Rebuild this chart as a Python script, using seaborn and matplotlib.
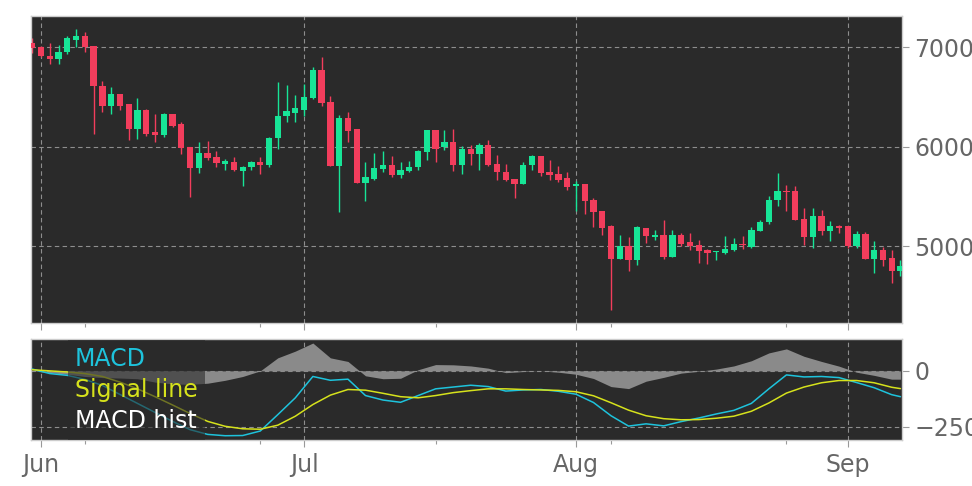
import numpy as np
import pandas as pd
import matplotlib
matplotlib.use('Agg')
import matplotlib.pyplot as plt
import matplotlib.dates as mdates
import matplotlib.ticker as mticker
import seaborn as sns

# daily candles, 2018-05-31 .. 2018-09-07
dates = pd.date_range('2018-05-31', periods=100, freq='D')

open_ = [7040, 6996, 6913, 6875, 6946, 7073, 7114, 7006, 6611, 6403,
         6528, 6427, 6176, 6370, 6142, 6119, 6323, 6222, 5991, 5780,
         5931, 5897, 5827, 5847, 5757, 5790, 5840, 5817, 6081, 6303,
         6340, 6370, 6491, 6772, 6450, 5807, 6283, 6176, 5629, 5673,
         5777, 5817, 5717, 5757, 5797, 5941, 6169, 5991, 6048, 5814,
         5975, 5928, 6018, 5824, 5747, 5676, 5626, 5810, 5901, 5740,
         5724, 5680, 5599, 5619, 5458, 5348, 5197, 4872, 5003, 4862,
         5181, 5087, 5114, 4890, 5114, 5036, 5013, 4956, 4936, 4930,
         4963, 5023, 4990, 5147, 5237, 5458, 5556, 5556, 5274, 5087,
         5305, 5147, 5204, 5197, 4996, 5124, 4872, 4956, 4880, 4745]
high = [7086, 7013, 7040, 7020, 7107, 7181, 7147, 7006, 6661, 6594,
        6528, 6427, 6483, 6377, 6327, 6333, 6323, 6249, 5991, 6041,
        6058, 5958, 5874, 5890, 5807, 5857, 5890, 6092, 6651, 6621,
        6518, 6628, 6795, 6903, 6511, 6317, 6343, 6176, 5840, 5935,
        5951, 5908, 5840, 5857, 5968, 6169, 6169, 6169, 6176, 6001,
        6018, 6035, 6068, 5918, 5827, 5676, 5840, 5918, 5908, 5860,
        5807, 5744, 5649, 5619, 5482, 5348, 5214, 5114, 5091, 5197,
        5181, 5164, 5257, 5157, 5131, 5131, 5056, 4970, 4946, 5104,
        5081, 5104, 5191, 5264, 5506, 5734, 5616, 5606, 5382, 5382,
        5365, 5247, 5214, 5204, 5147, 5137, 5053, 4990, 4956, 4862]
low = [6940, 6896, 6829, 6829, 6930, 6996, 6953, 6126, 6343, 6327,
       6370, 6068, 6075, 6109, 6041, 6092, 6192, 5925, 5488, 5734,
       5867, 5790, 5767, 5757, 5599, 5767, 5724, 5790, 5975, 6249,
       6249, 6310, 6477, 6403, 5807, 5338, 6048, 5629, 5455, 5663,
       5740, 5694, 5684, 5740, 5760, 5867, 5840, 5968, 5757, 5727,
       5817, 5760, 5807, 5666, 5649, 5482, 5626, 5767, 5700, 5666,
       5639, 5566, 5348, 5325, 5191, 5107, 4352, 4872, 4745, 4805,
       5030, 5056, 4872, 4890, 5003, 4963, 4829, 4822, 4862, 4923,
       4946, 4970, 4980, 5147, 5224, 5398, 5348, 5264, 5013, 4980,
       5114, 5046, 5131, 4980, 4980, 4869, 4729, 4795, 4628, 4695]
close = [6986, 6906, 6875, 6953, 7086, 7114, 6996, 6604, 6403, 6528,
         6410, 6176, 6370, 6126, 6116, 6327, 6209, 5981, 5780, 5931,
         5884, 5830, 5857, 5764, 5797, 5840, 5817, 6086, 6310, 6360,
         6383, 6501, 6772, 6437, 5807, 6283, 6159, 5629, 5690, 5787,
         5817, 5717, 5767, 5797, 5951, 6169, 5978, 6048, 5814, 5978,
         5928, 6018, 5817, 5740, 5666, 5626, 5817, 5901, 5734, 5710,
         5666, 5596, 5619, 5448, 5338, 5181, 4872, 5003, 4862, 5187,
         5097, 5114, 4890, 5114, 5023, 4996, 4946, 4930, 4946, 4973,
         5023, 5013, 5157, 5244, 5465, 5556, 5546, 5264, 5087, 5305,
         5147, 5204, 5184, 4996, 5124, 4872, 4956, 4862, 4745, 4802]

# MACD panel values, read every second day (plus the last day)
macd_days = list(range(0, 100, 2)) + [99]
macd = [8, -12, -20, -38, -65, -105, -145, -185, -225, -262,
        -283, -289, -288, -268, -195, -120, -25, -42, -37, -110,
        -130, -140, -110, -80, -72, -64, -70, -90, -85, -83,
        -91, -104, -141, -200, -246, -236, -245, -226, -210, -192,
        -176, -145, -80, -18, -27, -25, -30, -52, -75, -106, -115]
signal = [5, 0, -5, -12, -25, -50, -80, -115, -152, -190,
          -225, -247, -258, -260, -242, -202, -150, -108, -83, -86,
          -100, -115, -120, -110, -97, -88, -80, -80, -83, -85,
          -87, -93, -111, -142, -175, -200, -213, -218, -217, -211,
          -202, -180, -143, -99, -72, -53, -43, -43, -53, -73, -79]
hist = [0, -8, -15, -25, -30, -32, -35, -50, -58, -60,
        -55, -42, -25, 0, 58, 88, 124, 58, 42, -22,
        -35, -33, 5, 28, 27, 22, 12, -8, -3, 0,
        -6, -15, -34, -70, -79, -46, -29, -10, -2, 8,
        22, 45, 80, 98, 65, 42, 21, -6, -20, -37, -37]

minor_ticks = ['2018-06-06', '2018-06-26', '2018-07-16', '2018-08-05', '2018-08-25']

bg = '#2a2a2a'
up_color = '#17e597'
down_color = '#f23d5c'
macd_color = '#1ec3dc'
signal_color = '#d6e21c'
hist_color = '#8a8a8a'
txt = '#666666'

sns.set_style('dark', {'axes.facecolor': bg, 'axes.edgecolor': '#cccccc',
                       'grid.color': '#9a9a9a', 'grid.linestyle': '--'})

fig = plt.figure(figsize=(9.72, 4.86), dpi=100)
ax1 = fig.add_axes([31 / 972, 1 - 323 / 486, 871 / 972, 307 / 486])
ax2 = fig.add_axes([31 / 972, 1 - 440 / 486, 871 / 972, 101 / 486], sharex=ax1)

# candles
o = np.array(open_)
c = np.array(close)
colors = [up_color if cc >= oo else down_color for oo, cc in zip(o, c)]
body_bottom = np.minimum(o, c)
body_h = np.maximum(np.abs(c - o), 8)
ax1.vlines(dates, low, high, colors=colors, linewidth=1.0, zorder=2)
ax1.bar(dates, body_h, bottom=body_bottom, width=0.72, color=colors,
        linewidth=0, zorder=3)
ax1.set_ylim(4226, 7312)
ax1.set_yticks([5000, 6000, 7000])

# MACD
m_dates = dates[macd_days]
ax2.fill_between(m_dates, hist, 0, color=hist_color, linewidth=0,
                 label='MACD hist', zorder=1)
sns.lineplot(x=m_dates, y=macd, ax=ax2, color=macd_color, linewidth=1.1,
             label='MACD', zorder=3)
sns.lineplot(x=m_dates, y=signal, ax=ax2, color=signal_color, linewidth=1.1,
             label='Signal line', zorder=3)
ax2.set_ylim(-308, 142)
ax2.set_yticks([-250, 0])

handles, labels = ax2.get_legend_handles_labels()
order = [labels.index('MACD'), labels.index('Signal line'), labels.index('MACD hist')]
leg = ax2.legend([handles[i] for i in order], [labels[i] for i in order],
                 loc='upper left', bbox_to_anchor=(37 / 871, 0.99),
                 borderaxespad=0, handlelength=0, handletextpad=0,
                 labelspacing=0.29, borderpad=0.3, fontsize=17, frameon=True,
                 facecolor=bg, edgecolor='none', framealpha=0.6, fancybox=False)
for h in leg.legend_handles:
    h.set_visible(False)
for t, col in zip(leg.get_texts(), [macd_color, signal_color, 'white']):
    t.set_color(col)
leg.set_zorder(10)

x0 = dates[0] - pd.Timedelta(hours=3.4)
x1 = dates[-1] + pd.Timedelta(hours=4.3)
for ax in (ax1, ax2):
    ax.set_xlim(x0, x1)
    ax.xaxis.set_major_locator(mdates.MonthLocator())
    ax.xaxis.set_major_formatter(mdates.DateFormatter('%b'))
    ax.xaxis.set_minor_locator(mticker.FixedLocator(mdates.date2num(pd.to_datetime(minor_ticks))))
    ax.yaxis.tick_right()
    ax.grid(True, which='major', color='#9a9a9a', linestyle=(0, (4, 3)),
            linewidth=0.8, alpha=0.9)
    ax.tick_params(axis='both', which='major', length=5, width=0.8,
                   color='#999999', labelcolor=txt, labelsize=17, pad=4)
    ax.tick_params(axis='x', which='minor', length=3, width=0.8, color='#999999')
    ax.tick_params(axis='x', bottom=True, which='both')
    ax.tick_params(axis='y', right=True, left=False)
    ax.set_xlabel('')
    ax.set_ylabel('')
    for s in ax.spines.values():
        s.set_color('#cccccc')
        s.set_linewidth(1)
ax1.tick_params(axis='x', labelbottom=False)

fig.savefig('out.png', dpi=100, facecolor='white')
